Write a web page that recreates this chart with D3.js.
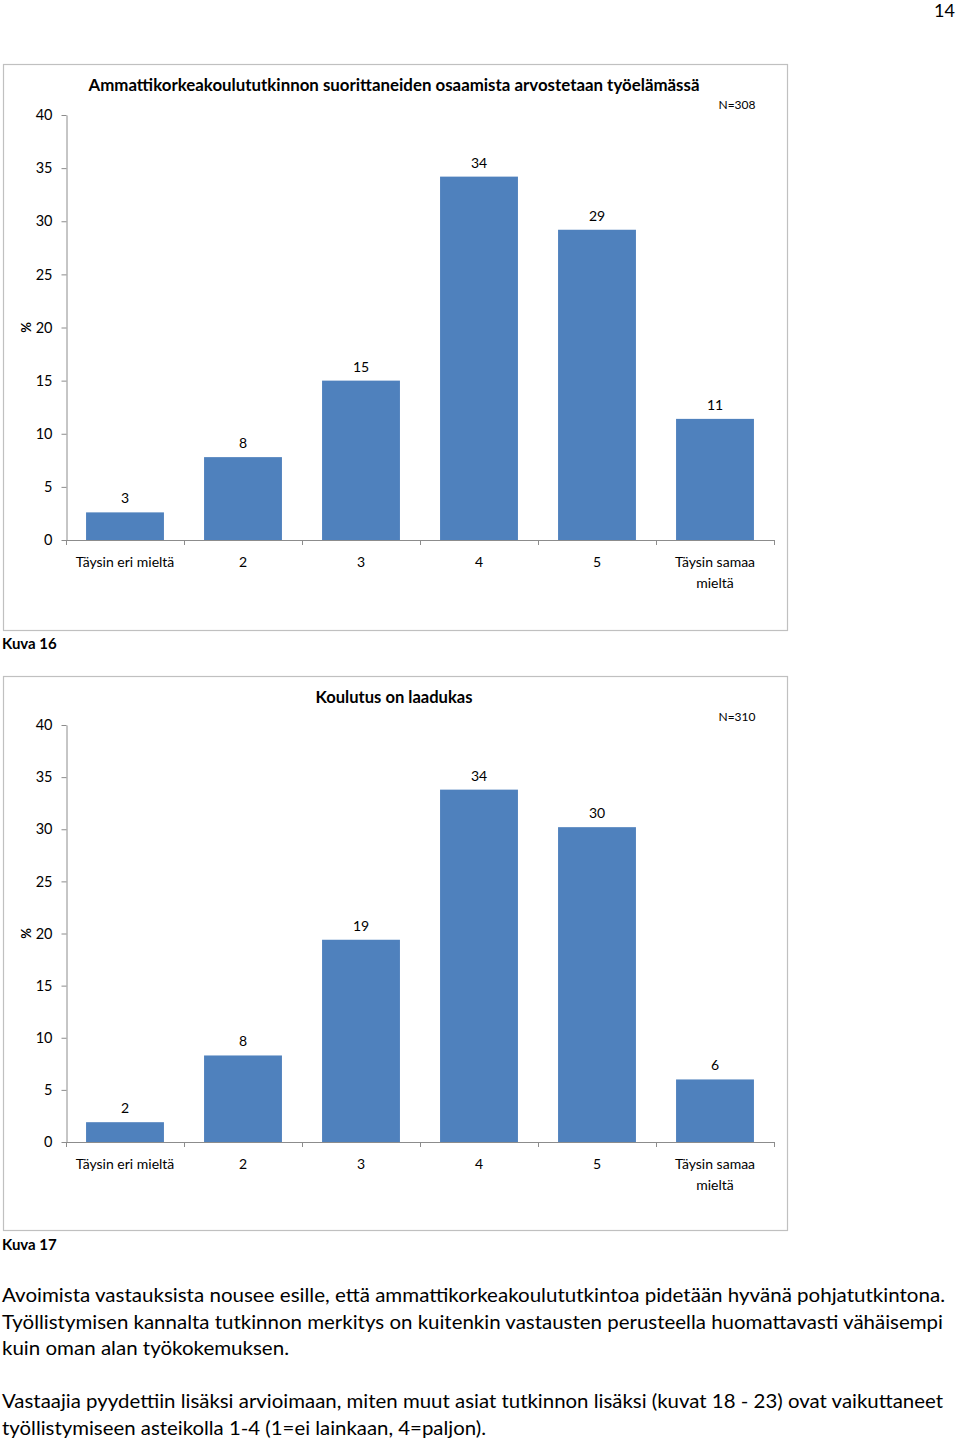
<!DOCTYPE html>
<html><head><meta charset="utf-8">
<script src="https://cdn.jsdelivr.net/npm/d3@7/dist/d3.min.js"></script>
<style>
body{margin:0;background:#fff;}
svg{display:block;font-family:Lato,"Open Sans",sans-serif;}
</style></head>
<body>
<svg id="c" width="960" height="1440"></svg>
<script>
// ---- data ----
const categories = ["Täysin eri mieltä", "2", "3", "4", "5", "Täysin samaa\nmieltä"];
const yTicks = [0, 5, 10, 15, 20, 25, 30, 35, 40];
const values16 = [2.6, 7.8, 15.0, 34.2, 29.2, 11.4];
const labels16 = ["3", "8", "15", "34", "29", "11"];
const values17 = [1.9, 8.3, 19.4, 33.8, 30.2, 6.0];
const labels17 = ["2", "8", "19", "34", "30", "6"];
const title16 = "Ammattikorkeakoulututkinnon suorittaneiden osaamista arvostetaan työelämässä";
const title17 = "Koulutus on laadukas";
const n16 = "N=308";
const n17 = "N=310";
const caption16 = "Kuva 16";
const caption17 = "Kuva 17";
const paragraph = [
  "Avoimista vastauksista nousee esille, että ammattikorkeakoulututkintoa pidetään hyvänä pohjatutkintona.",
  "Työllistymisen kannalta tutkinnon merkitys on kuitenkin vastausten perusteella huomattavasti vähäisempi",
  "kuin oman alan työkokemuksen.",
  "",
  "Vastaajia pyydettiin lisäksi arvioimaan, miten muut asiat tutkinnon lisäksi (kuvat 18 - 23) ovat vaikuttaneet",
  "työllistymiseen asteikolla 1-4 (1=ei lainkaan, 4=paljon)."
];
const pageNumber = "14";

const svg = d3.select("#c");
const BAR = "#4f81bd", AXIS = "#8c8c8c", FRAME = "#c0c0c0", TXT = "#000";

svg.append("text").attr("x", 955).attr("y", 17).attr("text-anchor", "end")
  .attr("font-size", 18).attr("fill", TXT).text(pageNumber);

function chart(cfg) {
  const g = svg.append("g");
  g.append("rect").attr("x", cfg.fx + 0.5).attr("y", cfg.fy + 0.5)
    .attr("width", cfg.fw).attr("height", cfg.fh)
    .attr("fill", "#fff").attr("stroke", FRAME).attr("stroke-width", 1.2);

  const y = d3.scaleLinear().domain([0, 40]).range([cfg.y0, cfg.y40]);
  const x = d3.scaleBand().domain(categories).range([66, 774]).paddingInner(0.34).paddingOuter(0.17);

  // y axis
  const ya = g.append("g").attr("transform", "translate(66.5,0)")
    .call(d3.axisLeft(y).tickValues(yTicks).tickSize(5).tickPadding(9).tickSizeOuter(0));
  ya.select(".domain").attr("stroke", AXIS);
  ya.selectAll(".tick line").attr("stroke", AXIS);
  ya.selectAll(".tick text").attr("font-family", "Lato, sans-serif").attr("font-size", 14.5).attr("fill", TXT);

  // bars
  g.selectAll("rect.bar").data(cfg.values).enter().append("rect").attr("class", "bar")
    .attr("x", (d, i) => x(categories[i])).attr("width", x.bandwidth())
    .attr("y", d => y(d)).attr("height", d => y(0) - y(d)).attr("fill", BAR);

  // value labels
  g.selectAll("text.val").data(cfg.values).enter().append("text").attr("class", "val")
    .attr("x", (d, i) => x(categories[i]) + x.bandwidth() / 2)
    .attr("y", d => y(d) - 9).attr("text-anchor", "middle")
    .attr("font-size", 14).attr("fill", TXT).text((d, i) => cfg.labels[i]);

  // x axis
  const x0 = 66, x1 = 774;
  g.append("line").attr("x1", x0).attr("x2", x1).attr("y1", y(0) + 0.5).attr("y2", y(0) + 0.5).attr("stroke", AXIS);
  const bounds = d3.range(categories.length + 1).map(i => x0 + i * (x1 - x0) / categories.length);
  g.selectAll("line.xt").data(bounds).enter().append("line").attr("class", "xt")
    .attr("x1", d => d + 0.5).attr("x2", d => d + 0.5)
    .attr("y1", y(0)).attr("y2", y(0) + 5).attr("stroke", AXIS);
  categories.forEach((c, i) => {
    const t = g.append("text").attr("text-anchor", "middle").attr("font-size", 14).attr("fill", TXT)
      .attr("x", x(c) + x.bandwidth() / 2).attr("y", y(0) + 27);
    c.split("\n").forEach((line, j) => {
      t.append("tspan").attr("x", x(c) + x.bandwidth() / 2).attr("dy", j === 0 ? 0 : 21).text(line);
    });
  });

  // % label
  g.append("text").attr("transform", `translate(31,${y(20)}) rotate(-90)`)
    .attr("text-anchor", "middle").attr("font-size", 13).attr("font-weight", "bold").attr("fill", TXT).text("%");

  // title
  g.append("text").attr("x", 394).attr("y", cfg.ty).attr("text-anchor", "middle")
    .attr("font-size", 17).attr("font-weight", "bold").attr("fill", TXT)
    .attr("textLength", cfg.tlen).attr("lengthAdjust", "spacingAndGlyphs").text(cfg.title);
  g.append("text").attr("x", 737).attr("y", cfg.ty + 18).attr("text-anchor", "middle")
    .attr("font-size", 12).attr("fill", TXT).text(cfg.n);

  // caption
  svg.append("text").attr("x", 2).attr("y", cfg.cy).attr("font-size", 15).attr("font-weight", "bold")
    .attr("fill", TXT).text(cfg.caption);
}

chart({fx: 3, fy: 64, fw: 784, fh: 566, y0: 540, y40: 115, values: values16, labels: labels16,
  title: title16, tlen: 611, ty: 91, n: n16, caption: caption16, cy: 649});
chart({fx: 3, fy: 676, fw: 784, fh: 554, y0: 1142, y40: 725, values: values17, labels: labels17,
  title: title17, tlen: 157, ty: 703, n: n17, caption: caption17, cy: 1250});

// paragraph
const lens = [943, 941, 287, 0, 941, 484];
const ys = [1302, 1329, 1355, 0, 1408, 1435];
paragraph.forEach((line, i) => {
  if (!line) return;
  svg.append("text").attr("x", 2).attr("y", ys[i]).attr("font-size", 19).attr("fill", TXT)
    .attr("textLength", lens[i]).attr("lengthAdjust", "spacingAndGlyphs").text(line);
});
</script>
</body></html>
